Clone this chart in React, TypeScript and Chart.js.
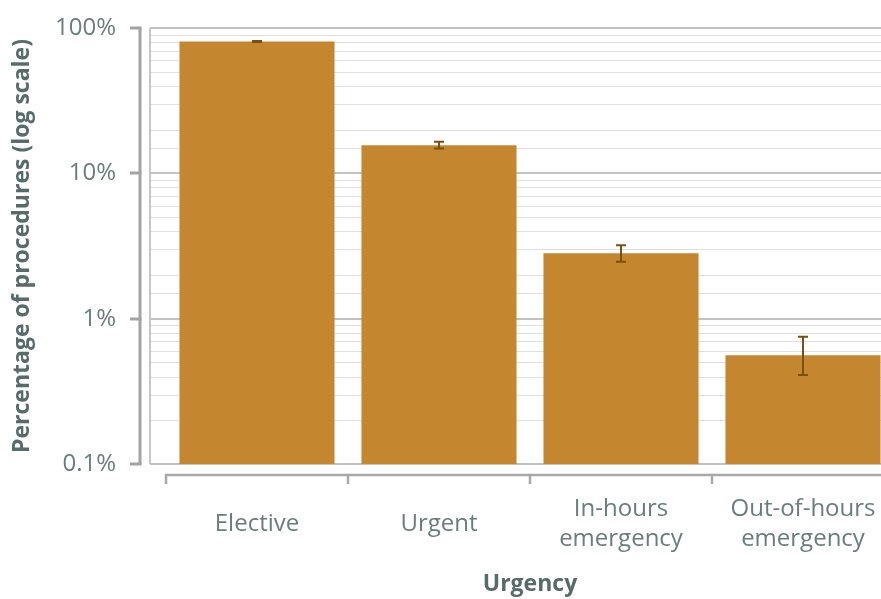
import React, { useEffect, useRef } from 'react';
import { Chart, registerables } from 'chart.js';

Chart.register(...registerables);

// Share of procedures by urgency, with 95% confidence intervals (percent)
const categories: (string | string[])[] = [
  'Elective',
  'Urgent',
  ['In-hours', 'emergency'],
  ['Out-of-hours', 'emergency'],
];
const percentages = [80.8, 15.6, 2.82, 0.56];
const ciLower = [80.2, 14.8, 2.46, 0.41];
const ciUpper = [81.4, 16.5, 3.2, 0.75];
const yMin = 0.1;
const yMax = 100;
const yTickText: Record<string, string> = { '0.1': '0.1%', '1': '1%', '10': '10%', '100': '100%' };

const FONT = "'Open Sans', sans-serif";
const TICK_COLOR = '#6b7c7c';
const TITLE_COLOR = '#586b6b';
const BAR_COLOR = '#c4872f';
const ERR_COLOR = '#7a4f12';

const isDecade = (v: number) => {
  const l = Math.log10(v);
  return Math.abs(l - Math.round(l)) < 1e-6;
};

const decadeLabel = (v: number) => {
  if (!isDecade(v)) return '';
  const e = Math.round(Math.log10(v));
  const key = e < 0 ? '0.1' : String(Math.pow(10, e));
  return yTickText[key] ?? '';
};

// Grid, detached axis lines and confidence-interval whiskers
const framePlugin = {
  id: 'frame',
  beforeDatasetsDraw(chart: any) {
    const { ctx, chartArea, scales } = chart;
    const y = scales.y;
    const x = scales.x;
    const plotLeft = chartArea.left - 16;
    const right = chart.width;
    ctx.save();

    // horizontal grid lines (minor first, then decades)
    const ticks = y.ticks
      .slice()
      .sort((a: any, b: any) => Number(isDecade(a.value)) - Number(isDecade(b.value)));
    ticks.forEach((t: any) => {
      const major = isDecade(t.value);
      const py = y.getPixelForValue(t.value);
      ctx.strokeStyle = major ? '#c2c2c2' : '#e0e0e0';
      ctx.lineWidth = major ? 2 : 1;
      const yy = major ? Math.round(py) : Math.round(py) + 0.5;
      ctx.beginPath();
      ctx.moveTo(plotLeft, yy);
      ctx.lineTo(right, yy);
      ctx.stroke();
    });

    // left edge of the plotting panel
    ctx.strokeStyle = '#c8c8c8';
    ctx.lineWidth = 2;
    ctx.beginPath();
    ctx.moveTo(plotLeft, y.getPixelForValue(yMax));
    ctx.lineTo(plotLeft, y.getPixelForValue(yMin));
    ctx.stroke();

    // detached y axis with decade tick marks
    const axisX = chartArea.left - 26;
    ctx.strokeStyle = '#a3a3a3';
    ctx.lineWidth = 3;
    ctx.beginPath();
    ctx.moveTo(axisX, y.getPixelForValue(yMax));
    ctx.lineTo(axisX, y.getPixelForValue(yMin));
    ctx.stroke();
    y.ticks.forEach((t: any) => {
      if (!isDecade(t.value)) return;
      const py = Math.round(y.getPixelForValue(t.value));
      ctx.beginPath();
      ctx.moveTo(axisX - 10, py);
      ctx.lineTo(axisX + 1.5, py);
      ctx.stroke();
    });

    // detached x axis with category boundary ticks
    const axisY = chartArea.bottom + 11;
    const step = x.getPixelForValue(1) - x.getPixelForValue(0);
    ctx.strokeStyle = '#a8a8a8';
    ctx.lineWidth = 2.5;
    ctx.beginPath();
    ctx.moveTo(chartArea.left, axisY);
    ctx.lineTo(right, axisY);
    ctx.stroke();
    for (let i = 0; i <= categories.length; i++) {
      const px = Math.round(x.getPixelForValue(0) - step / 2 + i * step);
      ctx.beginPath();
      ctx.moveTo(px, axisY - 1);
      ctx.lineTo(px, axisY + 9);
      ctx.stroke();
    }
    ctx.restore();
  },
  afterDatasetsDraw(chart: any) {
    const { ctx, scales } = chart;
    const y = scales.y;
    const meta = chart.getDatasetMeta(0);
    ctx.save();
    ctx.strokeStyle = ERR_COLOR;
    ctx.lineWidth = 2;
    meta.data.forEach((bar: any, i: number) => {
      const cx = Math.round(bar.x);
      const top = y.getPixelForValue(ciUpper[i]);
      const bottom = y.getPixelForValue(ciLower[i]);
      ctx.beginPath();
      ctx.moveTo(cx, top);
      ctx.lineTo(cx, bottom);
      ctx.moveTo(cx - 5, top);
      ctx.lineTo(cx + 5, top);
      ctx.moveTo(cx - 5, bottom);
      ctx.lineTo(cx + 5, bottom);
      ctx.stroke();
    });
    ctx.restore();
  },
};

export default function App() {
  const canvasRef = useRef<HTMLCanvasElement | null>(null);

  useEffect(() => {
    const canvas = canvasRef.current;
    if (!canvas) return;
    const chart = new Chart(canvas, {
      type: 'bar',
      data: {
        labels: categories as any,
        datasets: [
          {
            data: percentages,
            backgroundColor: BAR_COLOR,
            borderWidth: 0,
            categoryPercentage: 1,
            barPercentage: 0.852,
          },
        ],
      },
      options: {
        responsive: false,
        animation: false,
        layout: { padding: { top: 28, right: 6, left: 0, bottom: 0 } },
        plugins: { legend: { display: false }, tooltip: { enabled: false } },
        scales: {
          x: {
            type: 'category',
            offset: true,
            grid: { display: false },
            border: { display: false },
            ticks: {
              color: TICK_COLOR,
              font: { family: FONT, size: 24, lineHeight: 1.25 },
              padding: 37,
              maxRotation: 0,
              minRotation: 0,
              autoSkip: false,
              crossAlign: 'center',
            },
            title: {
              display: true,
              text: 'Urgency',
              color: TITLE_COLOR,
              font: { family: FONT, size: 23, weight: 'bold', lineHeight: 1.2 },
              padding: { top: 0, bottom: 1 },
            },
            afterFit: (s: any) => {
              s.height = 135;
              s.paddingLeft = 0;
              s.paddingRight = 0;
            },
          },
          y: {
            type: 'logarithmic',
            min: yMin,
            max: yMax,
            grid: { display: false },
            border: { display: false },
            ticks: {
              autoSkip: false,
              padding: 42,
              color: TICK_COLOR,
              font: { family: FONT, size: 24 },
              callback: (v: any) => decadeLabel(Number(v)),
            },
            title: {
              display: true,
              text: 'Percentage of procedures (log scale)',
              color: TITLE_COLOR,
              font: { family: FONT, size: 23, weight: 'bold', lineHeight: 1.2 },
              padding: { top: 9, bottom: 0 },
            },
            afterFit: (s: any) => {
              s.width = 166;
              s.paddingTop = 0;
              s.paddingBottom = 0;
            },
          },
        },
      } as any,
      plugins: [framePlugin],
    });
    return () => chart.destroy();
  }, []);

  return (
    <div
      style={{
        position: 'fixed',
        left: 0,
        top: 0,
        width: '100vw',
        height: '100vh',
        overflow: 'hidden',
        background: '#ffffff',
      }}
    >
      <canvas
        ref={canvasRef}
        width={900}
        height={599}
        style={{ width: 900, height: 599, display: 'block' }}
      />
    </div>
  );
}
